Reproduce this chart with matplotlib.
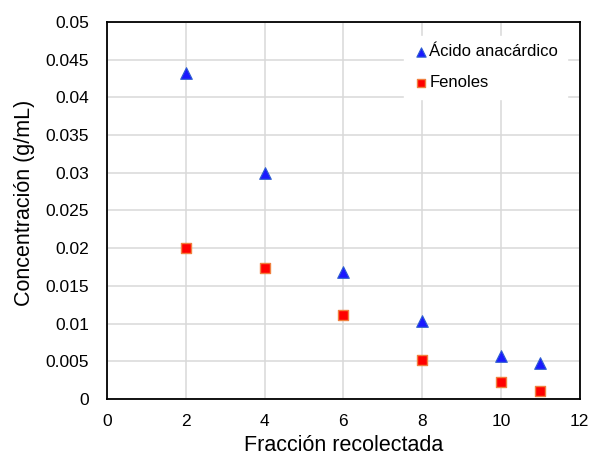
import matplotlib
matplotlib.use("Agg")
import matplotlib.pyplot as plt  # noqa: E402
from matplotlib.ticker import MultipleLocator, FuncFormatter  # noqa: E402

plt.rcParams["font.family"] = ["Liberation Sans", "DejaVu Sans"]

# fraction number vs concentration (g/mL)
fraccion = [2, 4, 6, 8, 10, 11]
acido_anacardico = [0.0432, 0.0300, 0.0168, 0.0103, 0.0057, 0.0048]
fenoles = [0.0200, 0.0173, 0.0111, 0.0052, 0.0022, 0.0011]

fig = plt.figure(figsize=(5.94, 4.59), dpi=100)
ax = fig.add_axes([0.180, 0.131, 0.796, 0.821])

ax.scatter(fraccion, acido_anacardico, marker="^", s=70, color="#1a1aff",
           edgecolors="#3060d0", linewidths=0.8, label="Ácido anacárdico", zorder=3)
ax.scatter(fraccion, fenoles, marker="s", s=60, color="#ff0000",
           edgecolors="#f08040", linewidths=1.0, label="Fenoles", zorder=3)

ax.set_xlim(0, 12)
ax.set_ylim(0, 0.05)
ax.xaxis.set_major_locator(MultipleLocator(2))
ax.yaxis.set_major_locator(MultipleLocator(0.005))
ax.yaxis.set_major_formatter(FuncFormatter(lambda v, _: f"{v:.3f}".rstrip("0").rstrip(".") if v else "0"))
ax.grid(color="#d9d9d9", lw=1.1)
ax.set_axisbelow(True)
ax.tick_params(length=0, labelsize=12.5)
ax.tick_params(axis="x", pad=11)
ax.tick_params(axis="y", pad=13)
for sp in ax.spines.values():
    sp.set_linewidth(1.3)
    sp.set_color("black")

ax.set_xlabel("Fracción recolectada", fontsize=15.5, labelpad=4)
ax.set_ylabel("Concentración (g/mL)", fontsize=15.5)
ax.yaxis.set_label_coords(-0.152, 0.52)

leg = ax.legend(loc="upper right", bbox_to_anchor=(0.99, 0.985), frameon=True,
                fontsize=12, handletextpad=0.0, labelspacing=0.95, markerscale=0.8,
                handlelength=1.0, borderpad=0.5, fancybox=False)
leg.get_frame().set_edgecolor("white")
leg.get_frame().set_facecolor("white")
leg.get_frame().set_alpha(1.0)

fig.savefig("out.png", dpi=100)
